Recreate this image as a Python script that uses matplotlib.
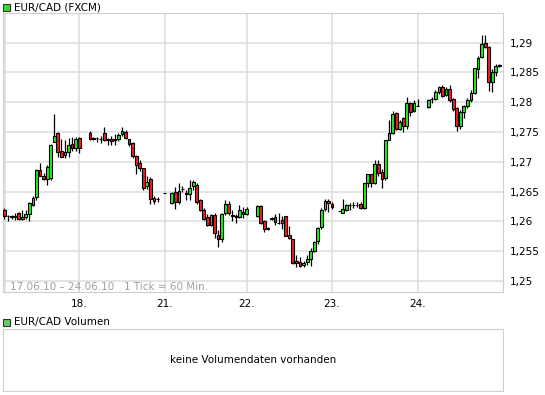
import matplotlib
matplotlib.use('Agg')
import numpy as np
import matplotlib.pyplot as plt
from matplotlib.patches import Rectangle

# hourly slots (24 per day, 18. starts at slot 24), gaps = no quote
slots = [3, 4, 5, 6, 7, 8, 9, 10, 11, 12, 13, 14, 15, 16, 17, 18, 19, 20, 21, 22, 23, 24,
         27, 28, 29, 30, 31, 32, 33, 34, 35, 36, 37, 38, 39, 40, 41, 42, 43, 44, 45, 46,
         48, 50, 51, 52, 53, 54, 55, 56, 57, 58, 59, 60, 61, 62, 63, 64, 65, 66, 67, 68, 69, 70, 71,
         74, 75, 76, 77, 78, 79, 80, 81, 82, 83, 84, 85, 86, 87, 88, 89, 90, 91, 92, 93, 94, 95,
         97, 98, 99, 100, 101, 102, 103, 104, 105, 106, 107, 108, 109, 110, 111, 112, 113, 114,
         115, 116, 117, 118, 119,
         122, 123, 124, 125, 126, 127, 128, 129, 130, 131, 132, 133, 134, 135, 136, 137, 138,
         139, 140, 141, 142]

opens = [1.2619, 1.2609, 1.2608, 1.2609, 1.2614, 1.2604, 1.2607, 1.2613, 1.2627, 1.2641, 1.2687,
         1.2677, 1.2672, 1.2673, 1.2734, 1.2748, 1.2718, 1.2711, 1.2716, 1.2730, 1.2724, 1.2740,
         1.2749, 1.2740, 1.2740, 1.2739, 1.2748, 1.2737, 1.2738, 1.2737, 1.2739, 1.2746, 1.2750,
         1.2738, 1.2732, 1.2710, 1.2698, 1.2689, 1.2659, 1.2672, 1.2640, 1.2638,
         1.2648, 1.2631, 1.2649, 1.2632, 1.2654, 1.2647, 1.2646, 1.2659, 1.2661, 1.2636, 1.2619,
         1.2608, 1.2594, 1.2611, 1.2578, 1.2570, 1.2614, 1.2629, 1.2611, 1.2610, 1.2608, 1.2616, 1.2613,
         1.2609, 1.2626, 1.2601, 1.2589, 1.2605, 1.2608, 1.2598, 1.2603, 1.2609, 1.2578, 1.2570,
         1.2534, 1.2532, 1.2527, 1.2532, 1.2537, 1.2551, 1.2567, 1.2591, 1.2621, 1.2634, 1.2630,
         1.2617, 1.2614, 1.2619, 1.2627, 1.2628, 1.2628, 1.2629, 1.2623, 1.2664, 1.2679, 1.2664,
         1.2697, 1.2683, 1.2673, 1.2736, 1.2748, 1.2782, 1.2755, 1.2773, 1.2761, 1.2798, 1.2786, 1.2793,
         1.2792, 1.2805, 1.2806, 1.2817, 1.2826, 1.2812, 1.2822, 1.2806, 1.2790, 1.2761, 1.2784,
         1.2793, 1.2803, 1.2815, 1.2856, 1.2876, 1.2899, 1.2892, 1.2834, 1.2851, 1.2861]

highs = [1.2623, 1.2611, 1.2611, 1.2614, 1.2616, 1.2619, 1.2619, 1.2633, 1.2642, 1.2688, 1.2698,
         1.2681, 1.2695, 1.2730, 1.2780, 1.2750, 1.2739, 1.2737, 1.2740, 1.2742, 1.2741, 1.2742,
         1.2752, 1.2742, 1.2742, 1.2743, 1.2758, 1.2740, 1.2743, 1.2746, 1.2748, 1.2759, 1.2754,
         1.2739, 1.2734, 1.2711, 1.2704, 1.2690, 1.2676, 1.2674, 1.2642, 1.2641,
         1.2648, 1.2650, 1.2658, 1.2664, 1.2659, 1.2653, 1.2670, 1.2670, 1.2664, 1.2637, 1.2622,
         1.2612, 1.2613, 1.2614, 1.2586, 1.2614, 1.2636, 1.2634, 1.2619, 1.2613, 1.2627, 1.2624, 1.2625,
         1.2628, 1.2628, 1.2602, 1.2590, 1.2608, 1.2613, 1.2615, 1.2610, 1.2610, 1.2593, 1.2571,
         1.2543, 1.2541, 1.2533, 1.2544, 1.2556, 1.2567, 1.2591, 1.2622, 1.2637, 1.2637, 1.2633,
         1.2617, 1.2637, 1.2629, 1.2631, 1.2632, 1.2632, 1.2632, 1.2665, 1.2680, 1.2680, 1.2704,
         1.2704, 1.2688, 1.2737, 1.2770, 1.2786, 1.2784, 1.2770, 1.2776, 1.2809, 1.2801, 1.2803, 1.2805,
         1.2806, 1.2809, 1.2820, 1.2828, 1.2829, 1.2826, 1.2829, 1.2807, 1.2792, 1.2787, 1.2796,
         1.2808, 1.2820, 1.2858, 1.2877, 1.2913, 1.2913, 1.2895, 1.2856, 1.2864, 1.2864]

lows = [1.2605, 1.2600, 1.2605, 1.2603, 1.2603, 1.2602, 1.2605, 1.2600, 1.2626, 1.2636, 1.2676,
        1.2669, 1.2661, 1.2670, 1.2734, 1.2708, 1.2708, 1.2707, 1.2708, 1.2719, 1.2718, 1.2715,
        1.2736, 1.2737, 1.2734, 1.2731, 1.2735, 1.2728, 1.2729, 1.2729, 1.2735, 1.2744, 1.2738,
        1.2726, 1.2707, 1.2679, 1.2685, 1.2653, 1.2655, 1.2630, 1.2629, 1.2632,
        1.2648, 1.2629, 1.2621, 1.2630, 1.2650, 1.2636, 1.2636, 1.2652, 1.2630, 1.2617, 1.2602,
        1.2593, 1.2592, 1.2572, 1.2558, 1.2565, 1.2611, 1.2611, 1.2600, 1.2598, 1.2606, 1.2606, 1.2611,
        1.2607, 1.2596, 1.2582, 1.2586, 1.2603, 1.2594, 1.2595, 1.2588, 1.2575, 1.2570, 1.2529,
        1.2524, 1.2524, 1.2524, 1.2527, 1.2525, 1.2549, 1.2563, 1.2588, 1.2617, 1.2616, 1.2621,
        1.2617, 1.2614, 1.2617, 1.2620, 1.2622, 1.2624, 1.2621, 1.2621, 1.2658, 1.2658, 1.2663,
        1.2676, 1.2656, 1.2670, 1.2736, 1.2746, 1.2754, 1.2754, 1.2750, 1.2755, 1.2777, 1.2784, 1.2793,
        1.2790, 1.2799, 1.2804, 1.2814, 1.2809, 1.2810, 1.2801, 1.2786, 1.2752, 1.2756, 1.2773,
        1.2791, 1.2801, 1.2814, 1.2840, 1.2874, 1.2891, 1.2819, 1.2818, 1.2844, 1.2859]

closes = [1.2610, 1.2609, 1.2609, 1.2608, 1.2604, 1.2608, 1.2612, 1.2631, 1.2640, 1.2687, 1.2676,
          1.2672, 1.2691, 1.2728, 1.2744, 1.2717, 1.2708, 1.2717, 1.2728, 1.2724, 1.2739, 1.2723,
          1.2739, 1.2739, 1.2740, 1.2739, 1.2736, 1.2738, 1.2735, 1.2738, 1.2745, 1.2751, 1.2740,
          1.2730, 1.2710, 1.2694, 1.2690, 1.2656, 1.2666, 1.2638, 1.2635, 1.2637,
          1.2648, 1.2648, 1.2633, 1.2651, 1.2655, 1.2646, 1.2656, 1.2666, 1.2633, 1.2620, 1.2605,
          1.2594, 1.2611, 1.2580, 1.2570, 1.2613, 1.2629, 1.2614, 1.2610, 1.2608, 1.2619, 1.2613, 1.2621,
          1.2626, 1.2598, 1.2587, 1.2587, 1.2606, 1.2599, 1.2597, 1.2597, 1.2576, 1.2572, 1.2530,
          1.2530, 1.2526, 1.2531, 1.2537, 1.2550, 1.2565, 1.2589, 1.2620, 1.2634, 1.2631, 1.2624,
          1.2617, 1.2621, 1.2627, 1.2628, 1.2628, 1.2627, 1.2623, 1.2664, 1.2679, 1.2664, 1.2697,
          1.2682, 1.2672, 1.2736, 1.2749, 1.2781, 1.2755, 1.2767, 1.2761, 1.2798, 1.2784, 1.2799, 1.2793,
          1.2804, 1.2806, 1.2817, 1.2826, 1.2811, 1.2822, 1.2803, 1.2788, 1.2761, 1.2784, 1.2794,
          1.2803, 1.2816, 1.2857, 1.2874, 1.2898, 1.2892, 1.2834, 1.2851, 1.2861, 1.2862]

day_slots = [24, 48, 71, 95, 119]
day_labels = ['18.', '21.', '22.', '23.', '24.']
price_ticks = [1.25, 1.255, 1.26, 1.265, 1.27, 1.275, 1.28, 1.285, 1.29]

W, H = 545, 395
fig = plt.figure(figsize=(W / 100, H / 100), dpi=100)
plt.rcParams['font.family'] = ['DejaVu Sans']
fs = 7.5
grid_c = '#dcdcdc'

# main price panel
ax = fig.add_axes([3 / W, 1 - 292 / H, 500 / W, 279 / H])
ax.set_xlim(2.6, 143.0)
ax.set_ylim(1.24817, 1.29498)
ax.set_xticks(day_slots)
ax.set_xticklabels(day_labels)
ax.set_yticks(price_ticks)
ax.set_yticklabels([f'{p:g}'.replace('.', ',') for p in price_ticks])
ax.yaxis.tick_right()
ax.tick_params(length=0, labelsize=fs, colors='black')
ax.tick_params(axis='y', pad=5)
ax.tick_params(axis='x', pad=5)
ax.grid(True, color=grid_c, lw=1.1)
ax.set_axisbelow(True)
for s in ax.spines.values():
    s.set_color('#cfcfcf')
ax.axvline(3.2, color=grid_c, lw=1.1, zorder=0)

o = np.array(opens)
c = np.array(closes)
up = c >= o
cols = np.where(up, '#22ee22', '#ee2222')
ax.vlines(slots, lows, highs, color='black', lw=0.9, zorder=2)
ax.bar(slots, np.abs(c - o), bottom=np.minimum(o, c), width=0.78,
       color=cols, edgecolor='black', linewidth=0.8, zorder=3)

ax.text(7 / 500, 5 / 279, '17.06.10 \u2013 24.06.10   1 Tick = 60 Min.', transform=ax.transAxes,
        fontsize=fs, color='#a0a0a0', va='center', ha='left')

# headers
fig.patches.append(Rectangle((3 / W, 1 - 11 / H), 7 / W, 7 / H, transform=fig.transFigure,
                             facecolor='#33dd33', edgecolor='#333333', lw=0.8))
fig.text(14 / W, 1 - 7.5 / H, 'EUR/CAD (FXCM)', fontsize=fs, va='center', ha='left')
fig.patches.append(Rectangle((3 / W, 1 - 326 / H), 7 / W, 7 / H, transform=fig.transFigure,
                             facecolor='#66cc66', edgecolor='#333333', lw=0.8))
fig.text(14 / W, 1 - 322.5 / H, 'EUR/CAD Volumen', fontsize=fs, va='center', ha='left')

# empty volume panel
vax = fig.add_axes([3 / W, 1 - 391 / H, 500 / W, 62 / H])
vax.set_xticks([])
vax.set_yticks([])
for s in vax.spines.values():
    s.set_color('#cfcfcf')
vax.text(0.5, 0.5, 'keine Volumendaten vorhanden', transform=vax.transAxes,
         fontsize=fs, ha='center', va='center')

fig.savefig('out.png', dpi=100)
